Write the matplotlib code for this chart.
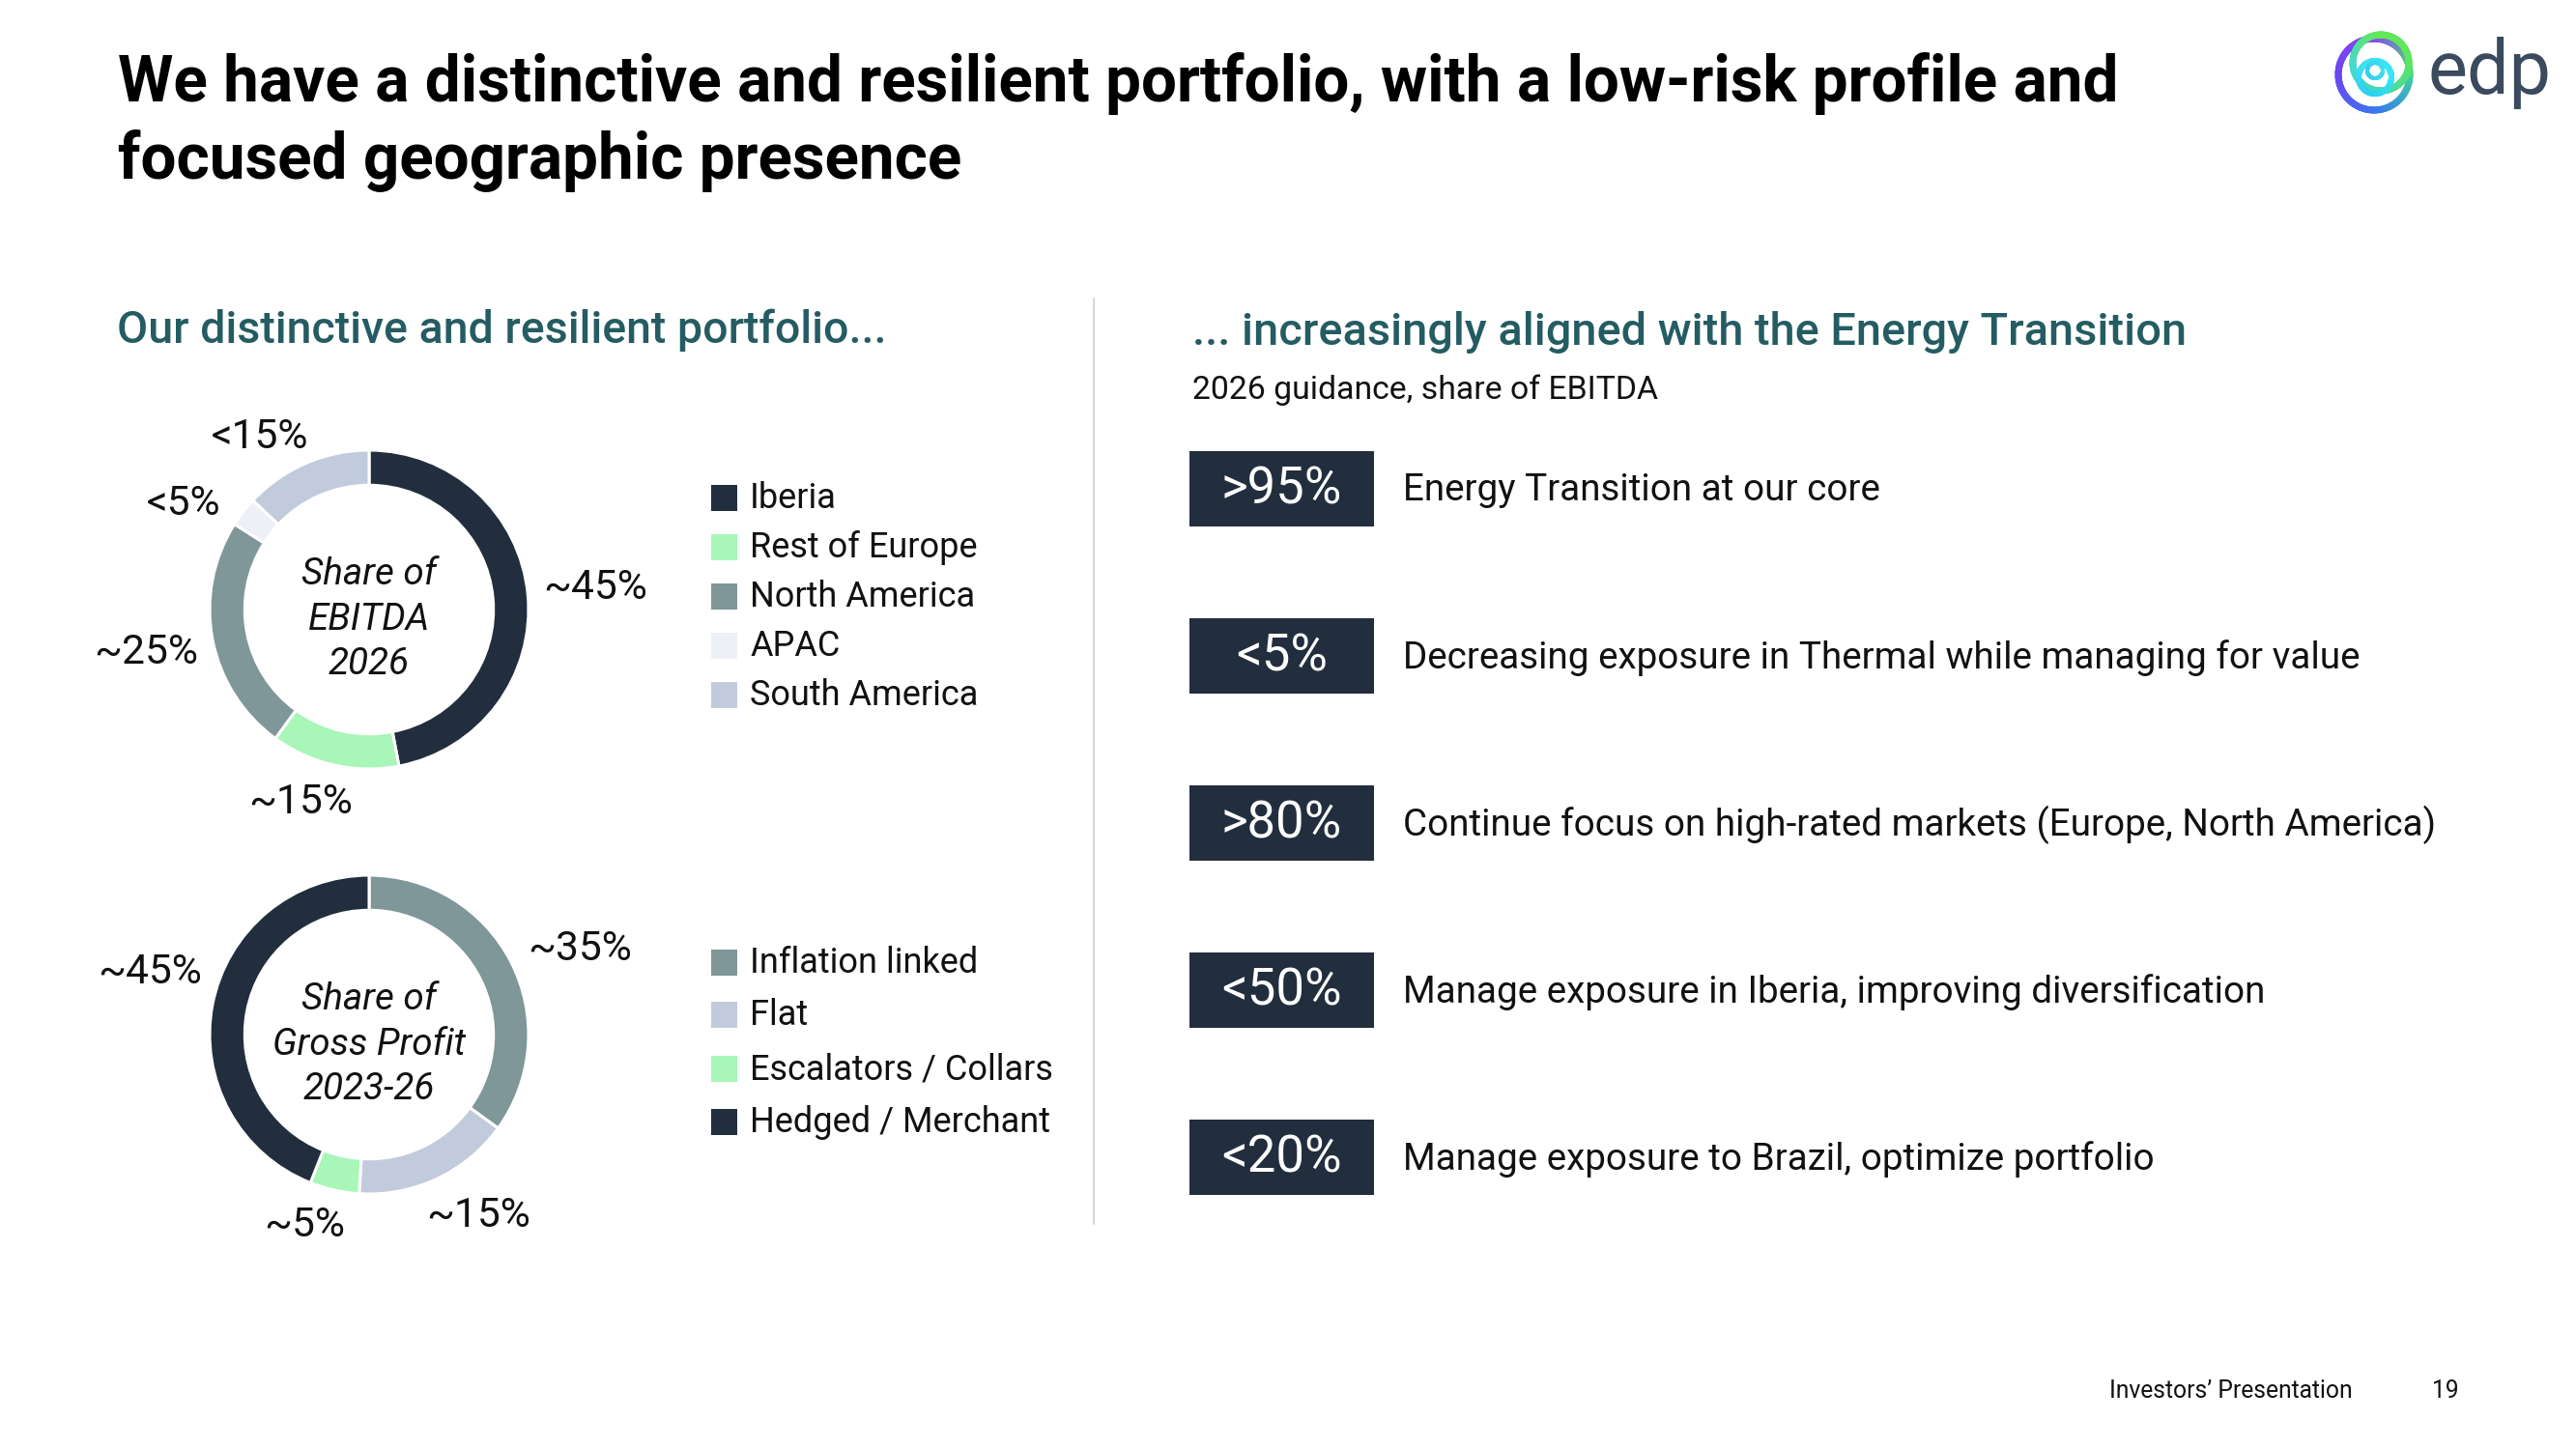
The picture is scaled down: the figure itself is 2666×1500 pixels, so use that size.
import numpy as np
import matplotlib
matplotlib.use('Agg')
import matplotlib.pyplot as plt
from matplotlib.patches import Rectangle
from matplotlib.collections import LineCollection
from matplotlib.colors import LinearSegmentedColormap

W, H = 2666, 1500
DPI = 100
plt.rcParams['font.family'] = ['Roboto', 'DejaVu Sans']

# ---------------- data ----------------
title_lines = ["We have a distinctive and resilient portfolio, with a low-risk profile and",
               "focused geographic presence"]
left_heading = "Our distinctive and resilient portfolio..."
right_heading = "... increasingly aligned with the Energy Transition"
right_sub = "2026 guidance, share of EBITDA"

ebitda_regions = ["Iberia", "Rest of Europe", "North America", "APAC", "South America"]
ebitda_share = [47, 13, 24, 3, 13]
ebitda_labels = ["~45%", "~15%", "~25%", "<5%", "<15%"]
ebitda_center = ["Share of", "EBITDA", "2026"]

gp_types = ["Inflation linked", "Flat", "Escalators / Collars", "Hedged / Merchant"]
gp_share = [35, 16, 5, 44]
gp_labels = ["~35%", "~15%", "~5%", "~45%"]
gp_center = ["Share of", "Gross Profit", "2023-26"]

guidance_values = [">95%", "<5%", ">80%", "<50%", "<20%"]
guidance_text = ["Energy Transition at our core",
                 "Decreasing exposure in Thermal while managing for value",
                 "Continue focus on high-rated markets (Europe, North America)",
                 "Manage exposure in Iberia, improving diversification",
                 "Manage exposure to Brazil, optimize portfolio"]

footer_text = "Investors\u2019 Presentation"
page_no = "19"

# ---------------- style ----------------
NAVY = '#222e3d'
GREEN = '#a8f6b8'
GREY = '#7f9798'
APAC = '#eef0f7'
SLATE = '#c1cbdb'
TEAL = '#245c62'
TXT = '#111111'
BODY = 'normal'
ebitda_colors = [NAVY, GREEN, GREY, APAC, SLATE]
gp_colors = [GREY, SLATE, GREEN, NAVY]

R = 165.0
RING = 0.22
ebitda_nudge = [0, 7, 0, -8, -9]
ebitda_rad = [235, 212, 235, 221, 212]
gp_nudge = [5, -6, 6, 5]
gp_rad = [235, 219, 208, 236]

fig = plt.figure(figsize=(W / DPI, H / DPI), dpi=DPI)
fig.patch.set_facecolor('white')
ax = fig.add_axes([0, 0, 1, 1])
ax.set_xlim(0, W)
ax.set_ylim(H, 0)
ax.axis('off')

texts_fit = []  # (text objects list, reference index, target width)

def T(x, y, s, **kw):
    return ax.text(x, y, s, **kw)

# title
t1 = T(122, 105, title_lines[0], fontsize=44, fontweight='bold', color='#000000', va='baseline')
t2 = T(122, 185, title_lines[1], fontsize=44, fontweight='bold', color='#000000', va='baseline')
texts_fit.append(([t1, t2], 0, 2071))

# headings
hl = T(121, 355, left_heading, fontsize=30, fontweight='medium', color=TEAL, va='baseline')
texts_fit.append(([hl], 0, 796))
hr = T(1234, 357, right_heading, fontsize=30, fontweight='medium', color=TEAL, va='baseline')
texts_fit.append(([hr], 0, 1025))
hs = T(1234, 413, right_sub, fontsize=22, fontweight=BODY, color=TXT, va='baseline')
texts_fit.append(([hs], 0, 481))

# divider
ax.plot([1132, 1132], [309, 1267], color='#cfcfcf', lw=1.2)

# guidance boxes
box_y0 = 506
box_dy = 173
val_texts, desc_texts = [], []
for i, (v, d) in enumerate(zip(guidance_values, guidance_text)):
    cy = box_y0 + i * box_dy
    ax.add_patch(Rectangle((1231, cy - 39), 191, 78, facecolor=NAVY, edgecolor='none'))
    val_texts.append(T(1326.5, cy + 1, v, fontsize=33, color='white', ha='center', va='center'))
    desc_texts.append(T(1452, cy + 2, d, fontsize=27, fontweight=BODY, color=TXT,
                        ha='left', va='center'))
texts_fit.append((val_texts, 4, 125))
texts_fit.append((desc_texts, 4, 778))

# donuts
def donut(cx, cy, values, colors, labels, nudges, rads, center_lines):
    half = 320
    pax = fig.add_axes([(cx - half) / W, 1 - (cy + half) / H, 2 * half / W, 2 * half / H])
    pax.pie(values, colors=colors, startangle=90, counterclock=False, radius=1,
            wedgeprops=dict(width=RING, edgecolor='white', linewidth=2.2))
    pax.set_xlim(-half / R, half / R)
    pax.set_ylim(-half / R, half / R)
    pax.set_aspect('equal')
    pax.axis('off')
    total = float(sum(values))
    cum = np.cumsum([0] + list(values))
    lab = []
    for i, s in enumerate(labels):
        mid = (cum[i] + values[i] / 2) / total * 360 + nudges[i]
        th = np.deg2rad(mid)
        x = cx + rads[i] * np.sin(th)
        y = cy - rads[i] * np.cos(th)
        lab.append(T(x, y, s, fontsize=24, fontweight=BODY, color=TXT,
                     ha='center', va='center'))
    cen = []
    for j, (s, off) in enumerate(zip(center_lines, [-26, 21, 67])):
        cen.append(T(cx, cy + off, s, fontsize=25, style='italic', fontweight=BODY,
                     color=TXT, ha='center', va='baseline'))
    return lab, cen

lab1, cen1 = donut(382, 631, ebitda_share, ebitda_colors, ebitda_labels,
                   ebitda_nudge, ebitda_rad, ebitda_center)
lab2, cen2 = donut(382, 1071, gp_share, gp_colors, gp_labels,
                   gp_nudge, gp_rad, gp_center)
texts_fit.append((lab1 + lab2, 0, 108))
texts_fit.append((cen1 + cen2, 4, 200))

# legends
leg_texts = []
def legend(rows_y, names, colors):
    for y, n, c in zip(rows_y, names, colors):
        ax.add_patch(Rectangle((736, y - 13.5), 27, 27, facecolor=c, edgecolor='none'))
        leg_texts.append(T(776, y + 1, n, fontsize=25, fontweight=BODY, color=TXT,
                           ha='left', va='center'))

legend([515, 566, 617, 668, 719], ebitda_regions, ebitda_colors)
legend([996, 1050, 1106, 1161], gp_types, gp_colors)
texts_fit.append((leg_texts, 4, 237))

# footer
ft = T(2183, 1447, footer_text, fontsize=18, fontweight=BODY, color=TXT, va='baseline')
texts_fit.append(([ft], 0, 252))
pn = T(2545, 1447, page_no, fontsize=18, fontweight=BODY, color=TXT, ha='right', va='baseline')

# logo
def ring(cx, cy, r, lw_px, cols):
    t = np.linspace(0, 2 * np.pi, 240)
    x = cx + r * np.cos(t)
    y = cy + r * np.sin(t)
    pts = np.column_stack([x, y]).reshape(-1, 1, 2)
    segs = np.concatenate([pts[:-1], pts[1:]], axis=1)
    cmap = LinearSegmentedColormap.from_list('c', cols)
    lc = LineCollection(segs, colors=cmap(np.linspace(0, 1, len(segs))),
                        linewidths=lw_px * 72 / DPI, capstyle='round')
    ax.add_collection(lc)

ring(2457, 77, 37, 7, ['#3fd6a0', '#3a78f0', '#6a47f3', '#8a44f6', '#4ddc78'])
ring(2464, 65, 29, 7, ['#5fe65f', '#45d8b0', '#46d8d0', '#62e858', '#5fe65f'])
ring(2458, 80, 17, 6, ['#36e6f4', '#2bd0ee', '#40e2f5', '#36e6f4'])
ring(2458, 73, 8, 4, ['#40e0f0', '#30d0f0', '#40e0f0'])
edp = T(2512, 97, "edp", fontsize=64, fontweight=BODY, color='#3b4a5c', va='baseline')
texts_fit.append(([edp], 0, 128))

# fit text sizes to reference widths
fig.canvas.draw()
rend = fig.canvas.get_renderer()
for objs, ref, target in texts_fit:
    w = objs[ref].get_window_extent(rend).width
    k = target / w
    for o in objs:
        o.set_fontsize(o.get_fontsize() * k)
pn.set_fontsize(ft.get_fontsize())

fig.savefig('out.png', dpi=DPI, facecolor='white')
